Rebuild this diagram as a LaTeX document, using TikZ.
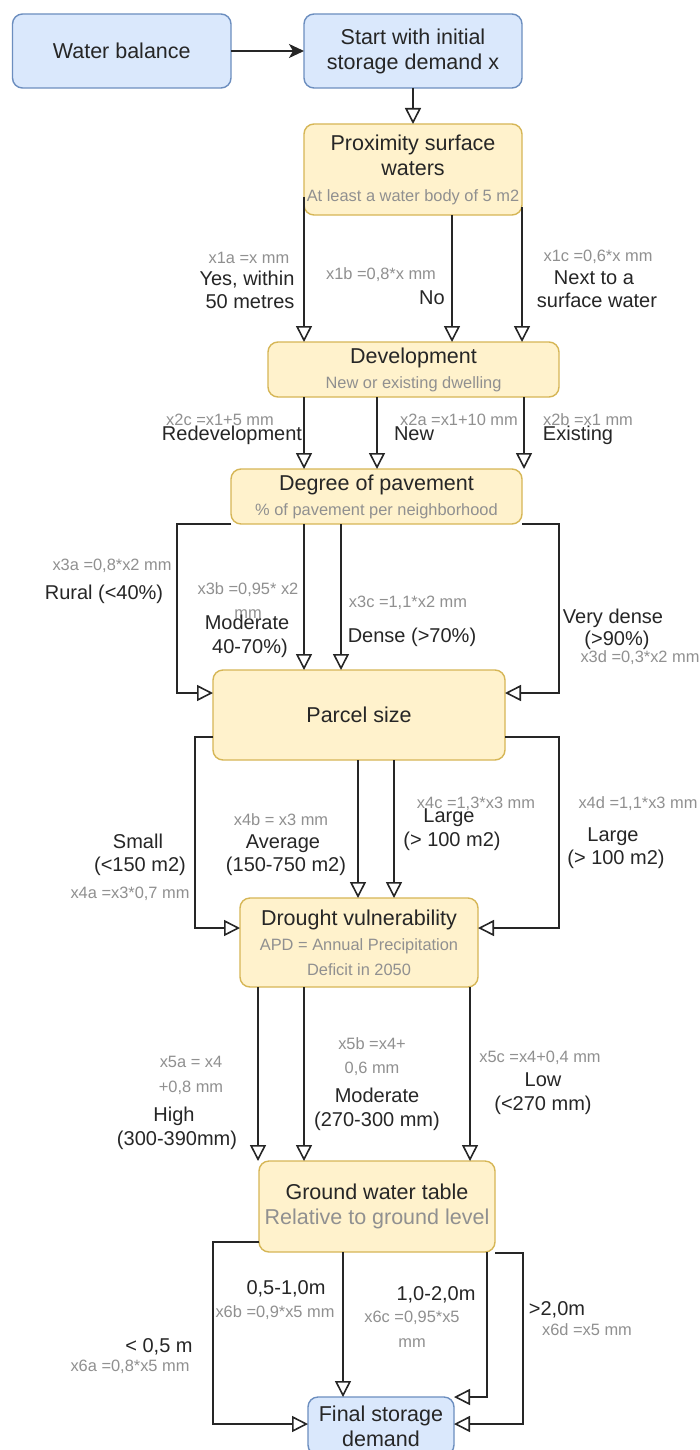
\documentclass[tikz,border=0pt]{standalone}
\usepackage{fontspec}
\setmainfont{Liberation Sans}
\usetikzlibrary{arrows.meta}
\definecolor{bluefill}{HTML}{DAE8FC}
\definecolor{bluedraw}{HTML}{6C8EBF}
\definecolor{yelfill}{HTML}{FFF2CC}
\definecolor{yeldraw}{HTML}{D6B656}
\definecolor{greytxt}{HTML}{909090}
\definecolor{labtxt}{HTML}{262626}
\definecolor{edgecol}{HTML}{262626}
\begin{document}
\begin{tikzpicture}[x=1pt,y=-1pt,
  box/.style={rounded corners=10pt, line width=1.4pt, inner sep=0pt, outer sep=0pt,
    align=center, text=labtxt, font=\fontsize{21.5}{25}\selectfont},
  bluebox/.style={box, fill=bluefill, draw=bluedraw},
  yelbox/.style={box, fill=yelfill, draw=yeldraw},
  edge/.style={draw=edgecol, line width=1.6pt, line join=miter,
    -{Triangle[length=16pt,width=16pt,fill=white,line width=1.6pt]}},
  solidedge/.style={draw=edgecol, line width=1.6pt,
    -{Stealth[length=15pt,width=14pt,inset=4pt]}},
  lab/.style={anchor=base, inner sep=0pt, text=labtxt, font=\fontsize{20}{23}\selectfont},
  glab/.style={anchor=base, inner sep=0pt, text=greytxt, font=\fontsize{16.4}{25}\selectfont},
]
\fill[white] (0,0) rectangle (700,1450);
\useasboundingbox (0,0) rectangle (700,1450);

% ---------- nodes ----------
\node[bluebox, minimum width=218.5pt, minimum height=74pt] (wb) at (121.75,51) {Water balance};
\node[bluebox, minimum width=218pt, minimum height=74pt] (start) at (413,51)
  {Start with initial\\storage demand x};
\node[yelbox, minimum width=218pt, minimum height=91pt] (prox) at (413,169.5)
  {Proximity surface\\waters\\[1pt]{\color{greytxt}\fontsize{16.4}{25}\selectfont At least a water body of 5 m2}};
\node[yelbox, minimum width=291pt, minimum height=55pt] (dev) at (413.5,369.5)
  {Development\\{\color{greytxt}\fontsize{16.4}{25}\selectfont New or existing dwelling}};
\node[yelbox, minimum width=291pt, minimum height=55pt] (deg) at (376.5,496.5)
  {Degree of pavement\\{\color{greytxt}\fontsize{16.4}{25}\selectfont \% of pavement per neighborhood}};
\node[yelbox, minimum width=292pt, minimum height=90pt] (parcel) at (359,715) {Parcel size};
\node[yelbox, minimum width=238pt, minimum height=89pt] (drought) at (359,942.5)
  {Drought vulnerability\\{\color{greytxt}\fontsize{16.4}{25}\selectfont APD = Annual Precipitation}\\{\color{greytxt}\fontsize{16.4}{25}\selectfont Deficit in 2050}};
\node[yelbox, minimum width=236pt, minimum height=91pt] (gw) at (377,1206.5)
  {Ground water table\\{\color{greytxt}Relative to ground level}};
\node[bluebox, minimum width=146pt, minimum height=58pt] (final) at (381,1426)
  {Final storage\\demand};

% ---------- connectors ----------
\draw[solidedge] (wb.east) -- (start.west);
\draw[edge] (start.south) -- (prox.north);

\draw[edge] ([yshift=-27.5pt]prox.west) -- ([xshift=-109.5pt]dev.north);
\draw[edge] ([xshift=39pt]prox.south) -- ([xshift=38.5pt]dev.north);
\draw[edge] ([yshift=-37.5pt]prox.east) -- ([xshift=108.5pt]dev.north);

\draw[edge] ([xshift=-109.5pt]dev.south) -- ([xshift=-72.5pt]deg.north);
\draw[edge] ([xshift=-36.5pt]dev.south) -- ([xshift=0.5pt]deg.north);
\draw[edge] ([xshift=110.5pt]dev.south) -- ([xshift=147.5pt]deg.north);

\draw[edge] ([yshift=-27.5pt]deg.west) -- ++(-54,0) |- ([yshift=22pt]parcel.west);
\draw[edge] ([xshift=-72.5pt]deg.south) -- ([xshift=-55pt]parcel.north);
\draw[edge] ([xshift=-35.5pt]deg.south) -- ([xshift=-18pt]parcel.north);
\draw[edge] ([yshift=-27.5pt]deg.east) -- ++(37,0) |- ([yshift=22pt]parcel.east);

\draw[edge] ([yshift=-22pt]parcel.west) -- ++(-18,0) |- ([yshift=14.5pt]drought.west);
\draw[edge] ([xshift=-1pt]parcel.south) -- ([xshift=-1pt]drought.north);
\draw[edge] ([xshift=35pt]parcel.south) -- ([xshift=35pt]drought.north);
\draw[edge] ([yshift=-22pt]parcel.east) -- ++(54,0) |- ([yshift=14.5pt]drought.east);

\draw[edge] ([xshift=-101pt]drought.south) -- ([xshift=-119pt]gw.north);
\draw[edge] ([xshift=-55pt]drought.south) -- ([xshift=-73pt]gw.north);
\draw[edge] ([xshift=111pt]drought.south) -- ([xshift=93pt]gw.north);

\draw[edge] ([yshift=-35.5pt]gw.west) -- ++(-46,0) |- ([yshift=2pt]final.west);
\draw[edge] ([xshift=-34pt]gw.south) -- ([xshift=-38pt]final.north);
\draw[edge] ([xshift=110pt]gw.south) |- ([yshift=29pt]final.east);
\draw[edge] ([yshift=-46.5pt]gw.east) -- ++(28,0) |- ([yshift=2pt]final.east);

% ---------- labels: proximity ----------
\node[glab] (l1a) at (249,263.9) {x1a =x mm};
\node[lab] (l1a1) at (247,285.2) {Yes, within};
\node[lab] (l1a2) at (250,308.2) {50 metres};
\node[glab] (l1b) at (381,279.9) {x1b =0,8*x mm};
\node[lab] (l1b1) at (432,304.2) {No};
\node[glab] (l1c) at (598,261.9) {x1c =0,6*x mm};
\node[lab] (l1c1) at (594,284.2) {Next to a};
\node[lab] (l1c2) at (597,307.2) {surface water};

% ---------- labels: development ----------
\node[glab] (l2c) at (220,425.9) {x2c =x1+5 mm};
\node[lab] (l2c1) at (232,440.2) {Redevelopment};
\node[glab] (l2a) at (459,425.9) {x2a =x1+10 mm};
\node[lab] (l2a1) at (414,440.2) {New};
\node[glab] (l2b) at (588,425.9) {x2b =x1 mm};
\node[lab] (l2b1) at (578,440.2) {Existing};

% ---------- labels: pavement ----------
\node[glab] (l3a) at (112,570.9) {x3a =0,8*x2 mm};
\node[lab] (l3a1) at (104,599.2) {Rural (<40\%)};
\node[glab] (l3b) at (248,594.9) {x3b =0,95* x2};
\node[glab] (l3bm) at (248,618.9) {mm};
\node[lab] (l3b1) at (247,629.2) {Moderate};
\node[lab] (l3b2) at (250,653.2) {40-70\%)};
\node[glab] (l3c) at (408,607.9) {x3c =1,1*x2 mm};
\node[lab] (l3c1) at (412,642.2) {Dense (>70\%)};
\node[lab] (l3d1) at (613,623.2) {Very dense};
\node[lab] (l3d2) at (617,645.2) {(>90\%)};
\node[glab] (l3d) at (640,662.9) {x3d =0,3*x2 mm};

% ---------- labels: parcel ----------
\node[lab] (l4a1) at (138,848.2) {Small};
\node[lab] (l4a2) at (140,871.2) {(<150 m2)};
\node[glab] (l4a) at (130,898.9) {x4a =x3*0,7 mm};
\node[glab] (l4b) at (281,825.9) {x4b = x3 mm};
\node[lab] (l4b1) at (283,848.2) {Average};
\node[lab] (l4b2) at (286,871.2) {(150-750 m2)};
\node[glab] (l4c) at (476,808.9) {x4c =1,3*x3 mm};
\node[lab] (l4c1) at (449,822.2) {Large};
\node[lab] (l4c2) at (452,846.2) {(> 100 m2)};
\node[glab] (l4d) at (638,808.9) {x4d =1,1*x3 mm};
\node[lab] (l4d1) at (613,841.2) {Large};
\node[lab] (l4d2) at (616,864.2) {(> 100 m2)};

% ---------- labels: drought ----------
\node[glab] (l5a) at (191,1067.9) {x5a = x4};
\node[glab] (l5am) at (191,1092.9) {+0,8 mm};
\node[lab] (l5a1) at (174,1121.2) {High};
\node[lab] (l5a2) at (177,1145.2) {(300-390mm)};
\node[glab] (l5b) at (372,1049.9) {x5b =x4+};
\node[glab] (l5bm) at (372,1073.9) {0,6 mm};
\node[lab] (l5b1) at (377,1102.2) {Moderate};
\node[lab] (l5b2) at (377,1126.2) {(270-300 mm)};
\node[glab] (l5c) at (540,1062.9) {x5c =x4+0,4 mm};
\node[lab] (l5c1) at (543,1086.2) {Low};
\node[lab] (l5c2) at (543,1110.2) {(<270 mm)};

% ---------- labels: ground water ----------
\node[lab] (l6a1) at (159,1352.2) {< 0,5 m};
\node[glab] (l6a) at (130,1371.9) {x6a =0,8*x5 mm};
\node[lab] (l6b1) at (286,1294.2) {0,5-1,0m};
\node[glab] (l6b) at (275,1317.9) {x6b =0,9*x5 mm};
\node[lab] (l6c1) at (436,1300.2) {1,0-2,0m};
\node[glab] (l6c) at (412,1322.9) {x6c =0,95*x5};
\node[glab] (l6cm) at (412,1347.9) {mm};
\node[lab] (l6d1) at (557,1315.2) {>2,0m};
\node[glab] (l6d) at (587,1335.9) {x6d =x5 mm};
\end{tikzpicture}
\end{document}
